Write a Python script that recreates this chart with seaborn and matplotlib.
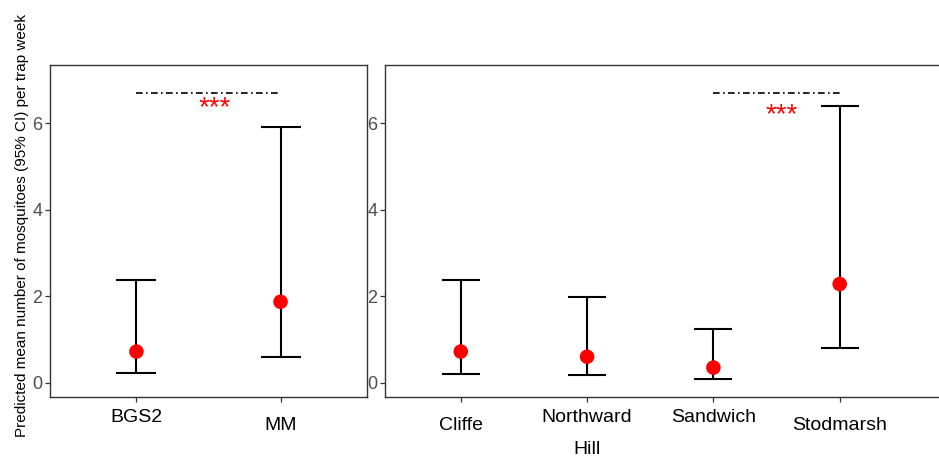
import matplotlib
matplotlib.use("Agg")
import matplotlib.pyplot as plt
import numpy as np
import pandas as pd
import seaborn as sns

# data
sites_left = ["BGS2", "MM"]
mean_left = [0.72, 1.87]
lower_left = [0.23, 0.60]
upper_left = [2.38, 5.91]

sites_right = ["Cliffe", "Northward\nHill", "Sandwich", "Stodmarsh"]
mean_right = [0.72, 0.60, 0.35, 2.28]
lower_right = [0.21, 0.17, 0.09, 0.81]
upper_right = [2.38, 1.99, 1.25, 6.39]

# significance brackets: (from index, to index, line height, star x, star baseline y)
sig_left = (0, 1, 6.69, 0.54, 6.17)
sig_right = (2, 3, 6.69, 2.54, 6.02)

# tick label vertical pads (points) to reproduce the staggered labels
pads_left = [5, 10.8]
pads_right = [10.8, 5, 5, 10.8]

ylabel = "Predicted mean number of mosquitoes (95% CI) per trap week"

sns.set_style("white")
plt.rcParams["font.family"] = ["Liberation Sans", "DejaVu Sans"]

fig = plt.figure(figsize=(9.39, 4.58), dpi=100)
ax_l = fig.add_axes([50 / 939, 1 - 397 / 458, 317 / 939, 332 / 458])
ax_r = fig.add_axes([385 / 939, 1 - 397 / 458, 557 / 939, 332 / 458])


def draw_panel(ax, sites, mean, lower, upper, xlim, sig, pads, capsize):
    df = pd.DataFrame({"site": sites, "mean": mean, "lower": lower, "upper": upper})
    x = np.arange(len(df))
    ax.errorbar(
        x,
        df["mean"],
        yerr=[df["mean"] - df["lower"], df["upper"] - df["mean"]],
        fmt="none",
        ecolor="black",
        elinewidth=1.5,
        capsize=capsize,
        capthick=1.5,
        zorder=2,
    )
    sns.scatterplot(x=x, y=df["mean"], ax=ax, color="red", s=110, edgecolor="none", zorder=3, legend=False)

    i0, i1, h, sx, sy = sig
    ax.plot([i0, i1], [h, h], color="black", lw=1.2, linestyle=(0, (4, 2, 1, 2)))
    ax.text(sx, sy, "***", color="red", fontsize=20, ha="center", va="baseline")

    ax.set_xlim(*xlim)
    ax.set_ylim(-0.33, 7.34)
    ax.set_xticks(x)
    ax.set_xticklabels(df["site"], fontsize=14, color="black", linespacing=2.2)
    ax.set_yticks([0, 2, 4, 6])
    ax.set_yticklabels(["0", "2", "4", "6"], fontsize=13, color="#4D4D4D")
    ax.tick_params(axis="both", direction="out", length=3.5, width=0.9, color="#333333",
                   left=True, bottom=True)
    ax.tick_params(axis="y", pad=2)
    for tick, p in zip(ax.xaxis.get_major_ticks(), pads):
        tick.set_pad(p)
    for sp in ax.spines.values():
        sp.set_color("#333333")
        sp.set_linewidth(1.0)
    ax.set_xlabel("")
    ax.set_ylabel("")


draw_panel(ax_l, sites_left, mean_left, lower_left, upper_left, (-0.6, 1.6), sig_left, pads_left, 14.5)
draw_panel(ax_r, sites_right, mean_right, lower_right, upper_right, (-0.6, 3.81), sig_right, pads_right, 13.5)

ax_l.set_ylabel(ylabel, fontsize=11, color="black")
ax_l.yaxis.set_label_coords(-0.066, 0.518)

fig.savefig("out.png", dpi=100)
